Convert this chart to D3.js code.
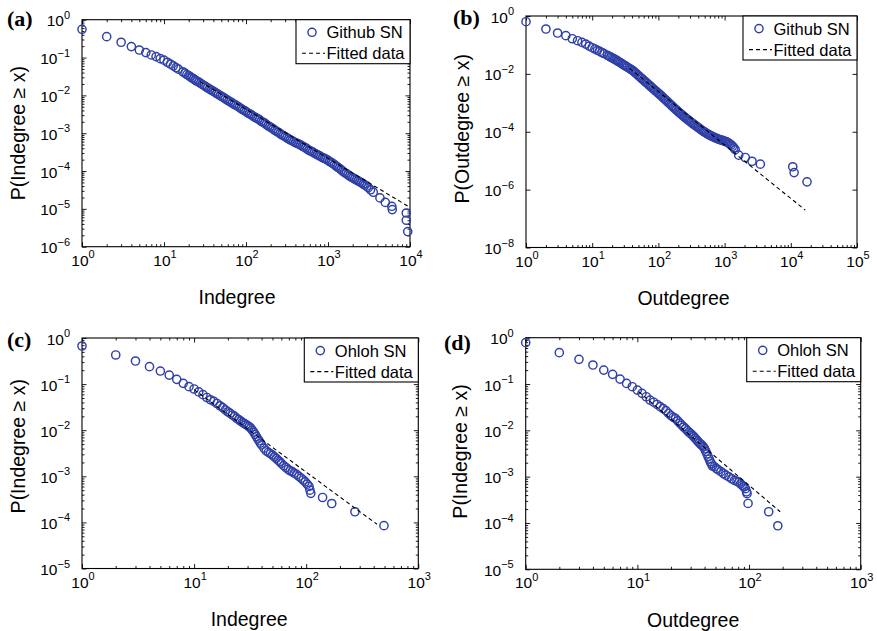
<!DOCTYPE html>
<html><head><meta charset="utf-8">
<script src="https://cdn.jsdelivr.net/npm/d3@7"></script>
<style>
body{margin:0;background:#fff}
svg{display:block}
text{fill:#000}
</style>
</head><body>
<svg id="c" width="877" height="631"></svg>
<script>
// ---------- data ----------
// (a) Github SN, indegree CCDF
const aX = [1,2,3,4,5,6,7,8,9,10,11,12,13,14,15,17,18,19,20,21,22,23,24,25,26.5,28,29.5,31,32.5,34,36,38,40,42,44,46,48.5,51,53.5,56,59,62,65,68,71.5,75,79,83,87,91,95.5,100,105,110,115.5,121,127,133,139.5,146,153.5,161,169,177,186,195,205,215,225.5,236,248,260,273,286,300,315,330,346,363,381,400,419,440,461,484,507,532,558,586,614,644,675,709,743,779,817,857,899,943,989,1038,1088,1142,1197,1255,1316,1380,1448,1520,1593,1670,1752,1840,1927,2020,2120,2225,2332,2445,2565,2690,2822,2960,3100,3300,3565,4300,5000,6000,6080,9000,9010,9380];
const aY = [0.557,0.356,0.253,0.195,0.158,0.135,0.117,0.106,0.0933,0.0851,0.0750,0.0668,0.0603,0.0543,0.0495,0.0417,0.0388,0.0355,0.0334,0.0309,0.0288,0.0272,0.0255,0.0240,0.0224,0.0207,0.0192,0.0180,0.0168,0.0158,0.0146,0.01365,0.0127,0.0120,0.0112,0.0106,0.0098,0.00923,0.00870,0.00813,0.00755,0.00708,0.00668,0.00624,0.00583,0.00550,0.00517,0.00479,0.00448,0.00422,0.00398,0.00372,0.00345,0.00327,0.00309,0.00288,0.00268,0.00254,0.00241,0.00224,0.00207,0.00195,0.00184,0.00170,0.00157,0.00148,0.00139,0.00129,0.00119,0.00112,0.00106,0.000977,0.000910,0.000861,0.000812,0.000759,0.000705,0.000668,0.000635,0.000596,0.000562,0.000537,0.000518,0.000490,0.000458,0.000437,0.000412,0.000380,0.000355,0.000339,0.000322,0.000302,0.000283,0.000269,0.000256,0.000240,0.000226,0.000216,0.000207,0.000195,0.000180,0.000170,0.000160,0.000148,0.000136,0.000126,0.000117,0.000107,9.8e-5,9.12e-5,8.6e-5,7.94e-5,7.35e-5,6.92e-5,6.55e-5,6.17e-5,5.80e-5,5.50e-5,5.15e-5,4.90e-5,4.55e-5,4.27e-5,3.98e-5,3.63e-5,3.2e-5,2.75e-5,1.95e-5,1.48e-5,1.17e-5,9.55e-6,7.76e-6,5.01e-6,2.51e-6];
const fitAX = [27.5, 9550];
const fitAY = [0.0231, 1.16e-5];

// (b) Github SN, outdegree CCDF
const bX = [1,2,3,4,5,6,7,8,9,10,11,12,13,14,15,17,18,19,20,21,22,23,24,25,26.5,28,29.5,31,32.5,34,36,38,40,42,44,46,48.5,51,53.5,56,59,62,65,68,71.5,75,79,83,87,91,95.5,100,105,110,115.5,121,127,133,139.5,146,153.5,161,169,177,186,195,205,215,225.5,236,248,260,273,286,300,315,330,346,363,381,400,419,440,461,484,507,532,558,586,614,644,675,709,743,779,817,857,899,943,989,1038,1088,1142,1197,1255,1316,1380,1448,1634,2056,2594,3467,10700,11220,17580];
const bY = [0.635,0.355,0.258,0.209,0.164,0.140,0.123,0.107,0.0912,0.0802,0.0724,0.0653,0.0596,0.0547,0.0505,0.0437,0.0408,0.0380,0.0357,0.0337,0.0317,0.0299,0.0282,0.0266,0.0245,0.0226,0.0210,0.0195,0.0182,0.0170,0.0157,0.0145,0.0134,0.01245,0.0113,0.01035,0.0093,0.00841,0.0076,0.00692,0.0062,0.00562,0.0051,0.00468,0.0042,0.00380,0.0034,0.00309,0.0028,0.00257,0.00233,0.00214,0.00194,0.00176,0.00158,0.00143,0.00129,0.00117,0.00106,0.000955,0.00086,0.000776,0.000700,0.000631,0.000572,0.000519,0.000470,0.000427,0.000390,0.000355,0.000323,0.000295,0.000270,0.000248,0.000228,0.000209,0.000193,0.000178,0.000164,0.000151,0.000140,0.000129,0.000119,0.000110,0.000102,9.55e-5,8.9e-5,8.32e-5,7.85e-5,7.41e-5,7.0e-5,6.61e-5,6.3e-5,6.03e-5,5.75e-5,5.50e-5,5.3e-5,5.13e-5,4.95e-5,4.79e-5,4.6e-5,4.37e-5,4.1e-5,3.80e-5,3.5e-5,3.16e-5,2.8e-5,2.40e-5,1.55e-5,1.29e-5,9.55e-6,7.59e-6,6.17e-6,3.89e-6,1.86e-6];
const fitBX = [36.8, 16560];
const fitBY = [0.0155, 1.95e-7];

// (c) Ohloh SN, indegree CCDF
const cX = [1,2,3,4,5,6,7,8,9,10,11,12,13,14,15,16,17,18,19,20,21,22,23,24,25,26,27,28,29,30,31,32,33,34,35,36,37,38,39,40,42,44,46,48,50,52,54,56,58,60,63,66,69,72,75,78,82,86,90,94,98,102,106,108,110,140,169,272,494];
const cY = [0.670,0.428,0.317,0.239,0.192,0.157,0.127,0.104,0.0879,0.0783,0.0676,0.0589,0.0513,0.0457,0.0422,0.0380,0.0339,0.0309,0.0275,0.0251,0.0232,0.0214,0.0200,0.0180,0.0170,0.0158,0.0148,0.0140,0.0132,0.0126,0.0119,0.0111,0.0100,0.00912,0.00813,0.00724,0.00646,0.00589,0.00525,0.00479,0.00407,0.00355,0.00331,0.00309,0.00288,0.00263,0.00245,0.00224,0.00209,0.00191,0.00170,0.00155,0.00141,0.00132,0.00126,0.00117,0.00110,0.00100,0.000912,0.000832,0.000759,0.000676,0.000603,0.000501,0.000427,0.000347,0.000257,0.000170,8.51e-5];
const fitCX = [10, 428];
const fitCY = [0.076, 9.1e-5];

// (d) Ohloh SN, outdegree CCDF
const dX = [1,2,3,4,5,6,7,8,9,10,11,12,13,14,15,16,17,18,19,20,21,22,23,24,25,26,27,28,29,30,31,32,33,34,35,36,37,38,39,40,41,42,43,44,45,46,47,49,51,53,56,59,62,66,70,74,78,81,84,87,90,93,95,96,98,150,181];
const dY = [0.78,0.475,0.341,0.257,0.200,0.162,0.128,0.103,0.0875,0.0741,0.0629,0.0532,0.0451,0.0405,0.0362,0.0324,0.0295,0.0266,0.0232,0.0208,0.0192,0.0179,0.0160,0.0143,0.0130,0.0118,0.0109,0.0099,0.0091,0.0085,0.0079,0.0073,0.0067,0.0062,0.0057,0.0053,0.0050,0.0047,0.0044,0.0040,0.0035,0.0031,0.0027,0.0024,0.0021,0.0019,0.0017,0.00164,0.00150,0.00140,0.00128,0.00117,0.00108,0.00099,0.00090,0.00083,0.00079,0.00076,0.00070,0.00065,0.00060,0.00055,0.00047,0.00043,0.000264,0.000175,0.000087];
const fitDX = [10.3, 190];
const fitDY = [0.068, 1.75e-4];

// tick exponents
const xExpA = [0,1,2,3,4];
const yExpA = [0,-1,-2,-3,-4,-5,-6];
const xExpB = [0,1,2,3,4,5];
const yExpB = [0,-2,-4,-6,-8];
const xExpCD = [0,1,2,3];
const yExpCD = [0,-1,-2,-3,-4,-5];

const legendNames = ["Github SN","Github SN","Ohloh SN","Ohloh SN"];
const fitName = "Fitted data";
const panelTags = ["(a)","(b)","(c)","(d)"];
const xTitles = ["Indegree","Outdegree","Indegree","Outdegree"];
const yTitles = ["P(Indegree \u2265 x)","P(Outdegree \u2265 x)","P(Indegree \u2265 x)","P(Indegree \u2265 x)"];

// ---------- layout ----------
const panels = [
  {x:aX,y:aY,fx:fitAX,fy:fitAY,xe:xExpA,ye:yExpA,xd:[1,1e4],yd:[1e-6,1],L:82,R:410,T:19.7,B:246.7,tagX:7,tagY:26,xtOff:-9,ytX:25,ytOff:0,yMinor:true},
  {x:bX,y:bY,fx:fitBX,fy:fitBY,xe:xExpB,ye:yExpB,xd:[1,1e5],yd:[1e-8,1],L:526,R:857,T:16,B:247.5,tagX:453,tagY:25,xtOff:-8,ytX:469,ytOff:-3,yMinor:false},
  {x:cX,y:cY,fx:fitCX,fy:fitCY,xe:xExpCD,ye:yExpCD,xd:[1,1e3],yd:[1e-5,1],L:82,R:418.3,T:338,B:568.5,tagX:7,tagY:346.5,xtOff:-1,ytX:25,ytOff:-7,yMinor:true},
  {x:dX,y:dY,fx:fitDX,fy:fitDY,xe:xExpCD,ye:yExpCD,xd:[1,1e3],yd:[1e-5,1],L:525.7,R:860.7,T:337.7,B:569.3,tagX:444,tagY:349.5,xtOff:0,ytX:467,ytOff:-2,yMinor:true}
];

const SANS = "'Liberation Sans', Arial, Helvetica, sans-serif";
const SERIF = "'Liberation Serif', 'Times New Roman', serif";
const MARK = "#2f40a8";
const svg = d3.select("#c");

function minorVals(dom){
  const lo = Math.round(Math.log10(dom[0])), hi = Math.round(Math.log10(dom[1]));
  const v = [];
  for(let e=lo;e<hi;e++) for(let k=2;k<=9;k++) v.push(k*Math.pow(10,e));
  return v;
}
function addPow(t, e, sz){
  t.append("tspan").text("10");
  t.append("tspan").attr("dy",-7.5).style("font-size",sz+"px").text(e<0 ? "\u2212"+(-e) : String(e));
}

panels.forEach((p,i)=>{
  const x = d3.scaleLog().domain(p.xd).range([p.L,p.R]);
  const y = d3.scaleLog().domain(p.yd).range([p.B,p.T]);
  const g = svg.append("g");
  const majX = p.xe.map(e=>Math.pow(10,e));
  const majY = p.ye.map(e=>Math.pow(10,e));
  const minX = minorVals(p.xd);
  const minY = p.yMinor ? minorVals(p.yd) : [];

  const axes = [
    [()=>d3.axisBottom(x), `translate(0,${p.B})`, majX, minX],
    [()=>d3.axisTop(x), `translate(0,${p.T})`, majX, minX],
    [()=>d3.axisLeft(y), `translate(${p.L},0)`, majY, minY],
    [()=>d3.axisRight(y), `translate(${p.R},0)`, majY, minY]
  ];
  axes.forEach(([mk,tr,maj,mn])=>{
    const a1 = g.append("g").attr("transform",tr).call(mk().tickValues(maj).tickSize(-4.5).tickFormat(""));
    a1.select(".domain").remove();
    const a2 = g.append("g").attr("transform",tr).call(mk().tickValues(mn).tickSize(-2.5).tickFormat(""));
    a2.select(".domain").remove();
  });
  g.selectAll(".tick line").attr("stroke","#000").attr("stroke-width",0.9);

  g.append("rect").attr("x",p.L).attr("y",p.T).attr("width",p.R-p.L).attr("height",p.B-p.T)
    .attr("fill","none").attr("stroke","#000").attr("stroke-width",1.1);

  // tick labels
  p.xe.forEach(e=>{
    const t = g.append("text").attr("x",x(Math.pow(10,e))+1).attr("y",p.B+19)
      .attr("text-anchor","middle").style("font-family",SANS).style("font-size","15.5px");
    addPow(t,e,11);
  });
  p.ye.forEach(e=>{
    const t = g.append("text").attr("x",p.L-12).attr("y",y(Math.pow(10,e))+6.5)
      .attr("text-anchor","end").style("font-family",SANS).style("font-size","15.5px");
    addPow(t,e,11);
  });

  // titles
  g.append("text").attr("x",(p.L+p.R)/2+p.xtOff).attr("y",p.B+57.5)
    .attr("text-anchor","middle").style("font-family",SANS).style("font-size","19.5px").text(xTitles[i]);
  g.append("text").attr("transform",`translate(${p.ytX},${(p.T+p.B)/2+p.ytOff}) rotate(-90)`)
    .attr("text-anchor","middle").style("font-family",SANS).style("font-size","19.5px").text(yTitles[i]);
  g.append("text").attr("x",p.tagX).attr("y",p.tagY)
    .style("font-family",SERIF).style("font-weight","bold").style("font-size","22px").text(panelTags[i]);

  // data
  const pts = p.x.map((v,k)=>[v,p.y[k]]);
  g.append("g").selectAll("circle").data(pts).join("circle")
    .attr("cx",d=>x(d[0])).attr("cy",d=>y(d[1])).attr("r",4.1)
    .attr("fill","none").attr("stroke",MARK).attr("stroke-width",1.45);

  // fitted line
  const fit = p.fx.map((v,k)=>[v,p.fy[k]]);
  g.append("path").datum(fit)
    .attr("d",d3.line().x(d=>x(d[0])).y(d=>y(d[1])))
    .attr("fill","none").attr("stroke","#000").attr("stroke-width",1.1).attr("stroke-dasharray","4,3");

  // legend
  const lw = 114, lh = 44, lx = p.R-lw, ly = p.T;
  const lg = g.append("g");
  lg.append("rect").attr("x",lx).attr("y",ly).attr("width",lw).attr("height",lh)
    .attr("fill","#fff").attr("stroke","#000").attr("stroke-width",1.1);
  lg.append("circle").attr("cx",lx+16).attr("cy",ly+12.6).attr("r",4.1)
    .attr("fill","none").attr("stroke",MARK).attr("stroke-width",1.45);
  lg.append("text").attr("x",lx+30.5).attr("y",ly+18.5).style("font-family",SANS).style("font-size","16.5px").text(legendNames[i]);
  lg.append("line").attr("x1",lx+6).attr("x2",lx+29).attr("y1",ly+33.6).attr("y2",ly+33.6)
    .attr("stroke","#000").attr("stroke-width",1.1).attr("stroke-dasharray","4,3");
  lg.append("text").attr("x",lx+30.5).attr("y",ly+39.5).style("font-family",SANS).style("font-size","16.5px").text(fitName);
});
</script>
</body></html>
